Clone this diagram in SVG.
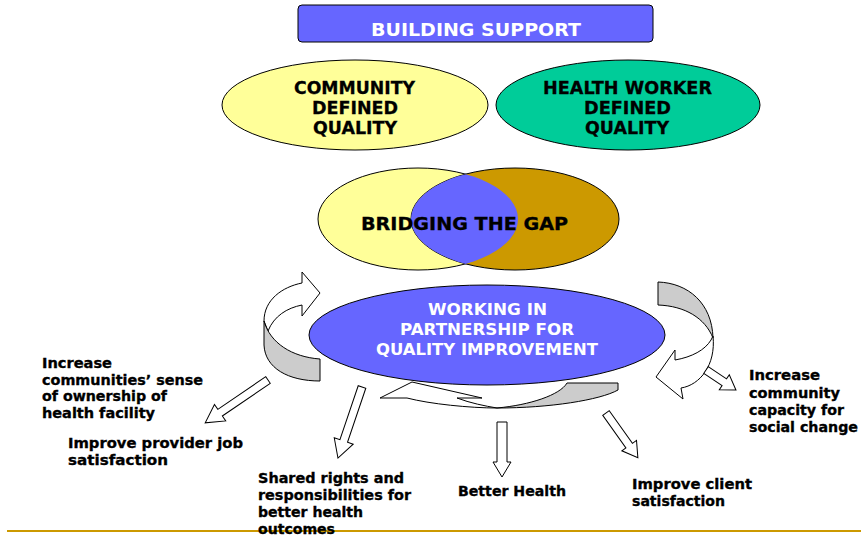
<svg xmlns="http://www.w3.org/2000/svg" width="861" height="539" viewBox="0 0 861 539">
<style>
text{font-family:"DejaVu Sans",Verdana,sans-serif;font-weight:bold}
.lbl{font-size:14.5px;fill:#000;stroke:#000;stroke-width:0.35}
.big{font-size:18px;fill:#000;stroke:#000;stroke-width:0.3;text-anchor:middle}
.wt{fill:#fff;text-anchor:middle}
.ol{stroke:#000;stroke-width:1}
.ar{fill:#fff;stroke:#000;stroke-width:1;stroke-linejoin:miter}
.gr{fill:#ccc;stroke:#000;stroke-width:1}
</style>
<defs>
<clipPath id="lc"><ellipse cx="418" cy="219" rx="100" ry="51"/></clipPath>
</defs>
<rect width="861" height="539" fill="#fff"/>
<line x1="7" y1="531" x2="861" y2="531" stroke="#CC9900" stroke-width="2"/>

<g id="building-support">
<rect x="298" y="5" width="355" height="37" rx="4" fill="#6666FF" class="ol"/>
<text x="476" y="36" class="wt" font-size="18" textLength="210" lengthAdjust="spacingAndGlyphs">BUILDING SUPPORT</text>
</g>

<g id="community-quality">
<ellipse cx="355" cy="105" rx="133" ry="45" fill="#FFFF99" class="ol"/>
<text class="big" x="354.5" y="94" textLength="121" lengthAdjust="spacingAndGlyphs">COMMUNITY</text>
<text class="big" x="355" y="114" textLength="86" lengthAdjust="spacingAndGlyphs">DEFINED</text>
<text class="big" x="355" y="134" textLength="84" lengthAdjust="spacingAndGlyphs">QUALITY</text>
</g>

<g id="health-worker-quality">
<ellipse cx="628" cy="105" rx="132" ry="45" fill="#00CC99" class="ol"/>
<text class="big" x="627.5" y="94" textLength="169" lengthAdjust="spacingAndGlyphs">HEALTH WORKER</text>
<text class="big" x="627.5" y="114" textLength="87" lengthAdjust="spacingAndGlyphs">DEFINED</text>
<text class="big" x="627" y="134" textLength="84" lengthAdjust="spacingAndGlyphs">QUALITY</text>
</g>

<g id="bridging-the-gap">
<ellipse cx="418" cy="219" rx="100" ry="51" fill="#FFFF99" class="ol"/>
<ellipse cx="515" cy="219" rx="104" ry="51" fill="#CC9900" class="ol"/>
<ellipse cx="515" cy="219" rx="104" ry="51" fill="#6666FF" clip-path="url(#lc)"/>
<text x="464.5" y="230" class="big" font-size="20" textLength="207" lengthAdjust="spacingAndGlyphs">BRIDGING THE GAP</text>
</g>

<g id="partnership">
<ellipse cx="487" cy="335" rx="178" ry="50" fill="#6666FF" class="ol"/>
<text class="wt" font-size="16.5" x="487.5" y="315" textLength="119" lengthAdjust="spacingAndGlyphs">WORKING IN</text>
<text class="wt" font-size="16.5" x="487" y="335" textLength="174" lengthAdjust="spacingAndGlyphs">PARTNERSHIP FOR</text>
<text class="wt" font-size="16.5" x="487" y="355" textLength="222" lengthAdjust="spacingAndGlyphs">QUALITY IMPROVEMENT</text>
</g>

<g id="connectors">
<path class="ar" d="M264,321 C264,300 282,287 302,283 L302,272 L320,293 L302,316 L302,305 C287,308 274,316 268,331 Z"/>
<path class="gr" d="M264,321 C270,343 292,357 320,359 L320,381 C288,381 265,368 264,345 Z"/>
<path class="gr" d="M658,282 C688,283 712,303 713,338 C705,318 685,306 658,305 Z"/>
<path class="ar" d="M713,336 C716,365 700,385 681,388 L683,399 L656,377 L675,350 L675,360 C692,357 705,350 711,340 Z"/>
<path class="ar" d="M380,398 L412,382 L482,398 L457,398 C470,403 485,406 497,408 C470,408 430,404 407,398 Z"/>
<path class="gr" d="M497,408 C530,405 560,395 567,383 L618,383 L618,390 C600,400 550,408 497,408 Z"/>
<path class="ar" transform="translate(268,380) rotate(145.7)" d="M0,-4 L58,-4 L58,-10 L76,0 L58,10 L58,4 L0,4 Z"/>
<path class="ar" transform="translate(362,387) rotate(108.7)" d="M0,-4 L57,-4 L57,-10 L75,0 L57,10 L57,4 L0,4 Z"/>
<path class="ar" transform="translate(502,422) rotate(90)" d="M0,-5 L40,-5 L40,-9 L55,0 L40,9 L40,5 L0,5 Z"/>
<path class="ar" transform="translate(606,413) rotate(54.6)" d="M0,-4 L40,-4 L40,-9 L55,0 L40,9 L40,4 L0,4 Z"/>
<path class="ar" transform="translate(706,370) rotate(33.7)" d="M0,-4 L22,-4 L22,-9 L36,0 L22,9 L22,4 L0,4 Z"/>
</g>

<g id="label-ownership">
<text class="lbl" x="42" y="368" textLength="70" lengthAdjust="spacingAndGlyphs">Increase</text>
<text class="lbl" x="42" y="385" textLength="161" lengthAdjust="spacingAndGlyphs">communities’ sense</text>
<text class="lbl" x="42" y="401" textLength="125" lengthAdjust="spacingAndGlyphs">of ownership of</text>
<text class="lbl" x="42" y="418" textLength="113" lengthAdjust="spacingAndGlyphs">health facility</text>
</g>
<g id="label-provider">
<text class="lbl" x="68" y="448" textLength="175" lengthAdjust="spacingAndGlyphs">Improve provider job</text>
<text class="lbl" x="68" y="465" textLength="100" lengthAdjust="spacingAndGlyphs">satisfaction</text>
</g>
<g id="label-shared">
<text class="lbl" x="258" y="483" textLength="146" lengthAdjust="spacingAndGlyphs">Shared rights and</text>
<text class="lbl" x="258" y="500" textLength="153" lengthAdjust="spacingAndGlyphs">responsibilities for</text>
<text class="lbl" x="258" y="517" textLength="105" lengthAdjust="spacingAndGlyphs">better health</text>
<text class="lbl" x="258" y="534" textLength="77" lengthAdjust="spacingAndGlyphs">outcomes</text>
</g>
<g id="label-health">
<text class="lbl" x="458" y="496" textLength="108" lengthAdjust="spacingAndGlyphs">Better Health</text>
</g>
<g id="label-client">
<text class="lbl" x="632" y="489" textLength="120" lengthAdjust="spacingAndGlyphs">Improve client</text>
<text class="lbl" x="632" y="506" textLength="93" lengthAdjust="spacingAndGlyphs">satisfaction</text>
</g>
<g id="label-capacity">
<text class="lbl" x="749" y="380" textLength="71" lengthAdjust="spacingAndGlyphs">Increase</text>
<text class="lbl" x="749" y="398" textLength="91" lengthAdjust="spacingAndGlyphs">community</text>
<text class="lbl" x="749" y="415" textLength="95" lengthAdjust="spacingAndGlyphs">capacity for</text>
<text class="lbl" x="749" y="432" textLength="109" lengthAdjust="spacingAndGlyphs">social change</text>
</g>
</svg>
